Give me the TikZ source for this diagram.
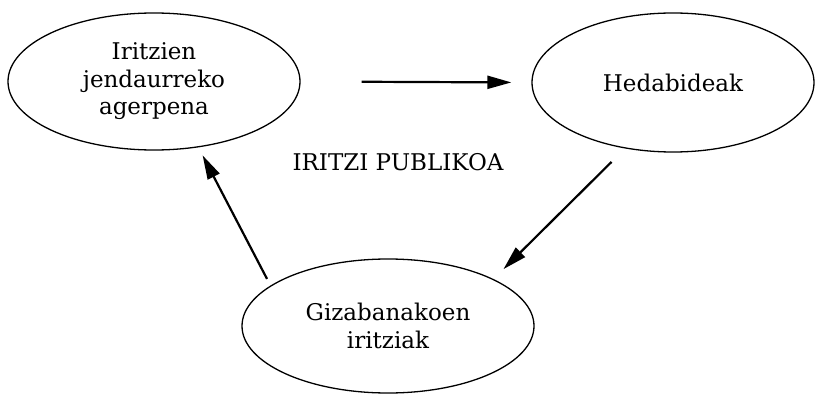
\documentclass[tikz,border=0pt]{standalone}
\usepackage{tikz}
\usepackage{fontspec}
\setmainfont{DejaVu Serif}
\usetikzlibrary{shapes.geometric, arrows.meta}

\begin{document}
\begin{tikzpicture}[x=1pt, y=-1pt,
  bubble/.style={draw, ellipse, line width=1.3pt, inner sep=0pt, align=center,
    font=\fontsize{23}{27.5}\selectfont},
  flow/.style={line width=2.2pt, -{Triangle[length=24pt, width=13pt]}}]
  \useasboundingbox (0, 0) rectangle (816, 395);

  % Ellipses
  \node[bubble, minimum width=292pt, minimum height=137pt] (itz) at (154, 81.5)
    {Iritzien\\jendaurreko\\agerpena};
  \node[bubble, minimum width=282pt, minimum height=139pt] (hed) at (673, 82.5)
    {Hedabideak};
  \node[bubble, minimum width=292pt, minimum height=134pt] (giz) at (388, 326)
    {Gizabanakoen\\iritziak};

  % Title
  \node[font=\fontsize{23}{27.5}\selectfont, anchor=base] (title) at (398, 171)
    {IRITZI PUBLIKOA};

  % Arrows
  \draw[flow, shorten <=61pt, shorten >=20pt] (itz.east) -- (hed.west);
  \draw[flow, shorten <=19pt, shorten >=14pt] (hed.234) -- (giz.24);
  \draw[flow, shorten <=7.5pt, shorten >=9pt] (giz.161) -- (itz.304);
\end{tikzpicture}
\end{document}
